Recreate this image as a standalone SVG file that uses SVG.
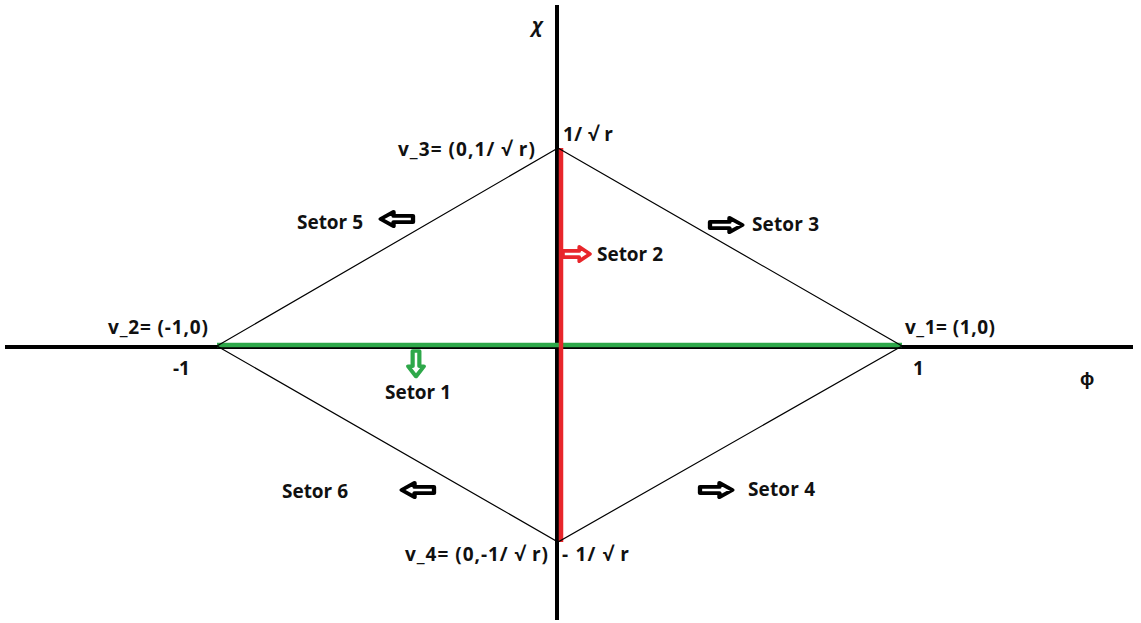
<svg xmlns="http://www.w3.org/2000/svg" width="1141" height="623" viewBox="0 0 1141 623">
<style>
text{font-family:"Open Sans","Liberation Sans",sans-serif;font-weight:bold;font-size:19px;fill:#111}
.edge{stroke:#000;stroke-width:1.2;fill:none}
.arr{fill:#fff;stroke-width:4;stroke-linejoin:round}
</style>
<defs>
<path id="rarrow" d="M0,-3.2 L18,-3.2 L18,-7.5 L30,0 L18,7.5 L18,3.2 L0,3.2 Z"/>
</defs>
<rect width="1141" height="623" fill="#fff"/>
<g id="connectors">
<line x1="5" y1="347" x2="1133" y2="347" stroke="#000" stroke-width="4"/>
<line x1="557" y1="5" x2="557" y2="620" stroke="#000" stroke-width="4"/>
<line x1="217" y1="345" x2="902" y2="345" stroke="#2ea84a" stroke-width="4.5"/>
<line x1="561" y1="148" x2="561" y2="542" stroke="#e8262b" stroke-width="4.5"/>
<polyline class="edge" points="558,148 902,346 558,542 217,346 558,148"/>
</g>
<g id="axes-labels">
<text x="532" y="32" font-size="20" font-style="italic">χ</text>
<text x="1080" y="385" font-size="21">ϕ</text>
<text x="173" y="375">-1</text>
<text x="913" y="375">1</text>
</g>
<g id="v3"><text x="398" y="156" textLength="137" lengthAdjust="spacing">v_3= (0,1/ √ r)</text></g>
<g id="top"><text x="563" y="141" textLength="50" lengthAdjust="spacing">1/ √ r</text></g>
<g id="v2"><text x="108" y="334" textLength="100" lengthAdjust="spacing">v_2= (-1,0)</text></g>
<g id="v1"><text x="905" y="334" textLength="90" lengthAdjust="spacing">v_1= (1,0)</text></g>
<g id="v4"><text x="405" y="561" textLength="143" lengthAdjust="spacing">v_4= (0,-1/ √ r)</text></g>
<g id="bottom"><text x="562" y="561" textLength="67" lengthAdjust="spacing">- 1/ √ r</text></g>
<g id="setor1">
<use href="#rarrow" class="arr" stroke="#2ea84a" transform="translate(416,351) rotate(90) scale(0.85,1.05)"/>
<text x="385" y="399" textLength="66">Setor 1</text>
</g>
<g id="setor2">
<use href="#rarrow" class="arr" stroke="#e8262b" transform="translate(563,254) scale(0.9,0.95)"/>
<text x="597" y="261" textLength="66">Setor 2</text>
</g>
<g id="setor3">
<use href="#rarrow" class="arr" stroke="#000" transform="translate(710,225) scale(1.08,0.95)"/>
<text x="752" y="231" textLength="67">Setor 3</text>
</g>
<g id="setor4">
<use href="#rarrow" class="arr" stroke="#000" transform="translate(700,490) scale(1.08,0.95)"/>
<text x="748" y="496" textLength="67">Setor 4</text>
</g>
<g id="setor5">
<use href="#rarrow" class="arr" stroke="#000" transform="translate(413,219) scale(-1.08,0.95)"/>
<text x="297" y="229" textLength="66">Setor 5</text>
</g>
<g id="setor6">
<use href="#rarrow" class="arr" stroke="#000" transform="translate(434,490) scale(-1.08,0.95)"/>
<text x="282" y="498" textLength="66">Setor 6</text>
</g>
</svg>
